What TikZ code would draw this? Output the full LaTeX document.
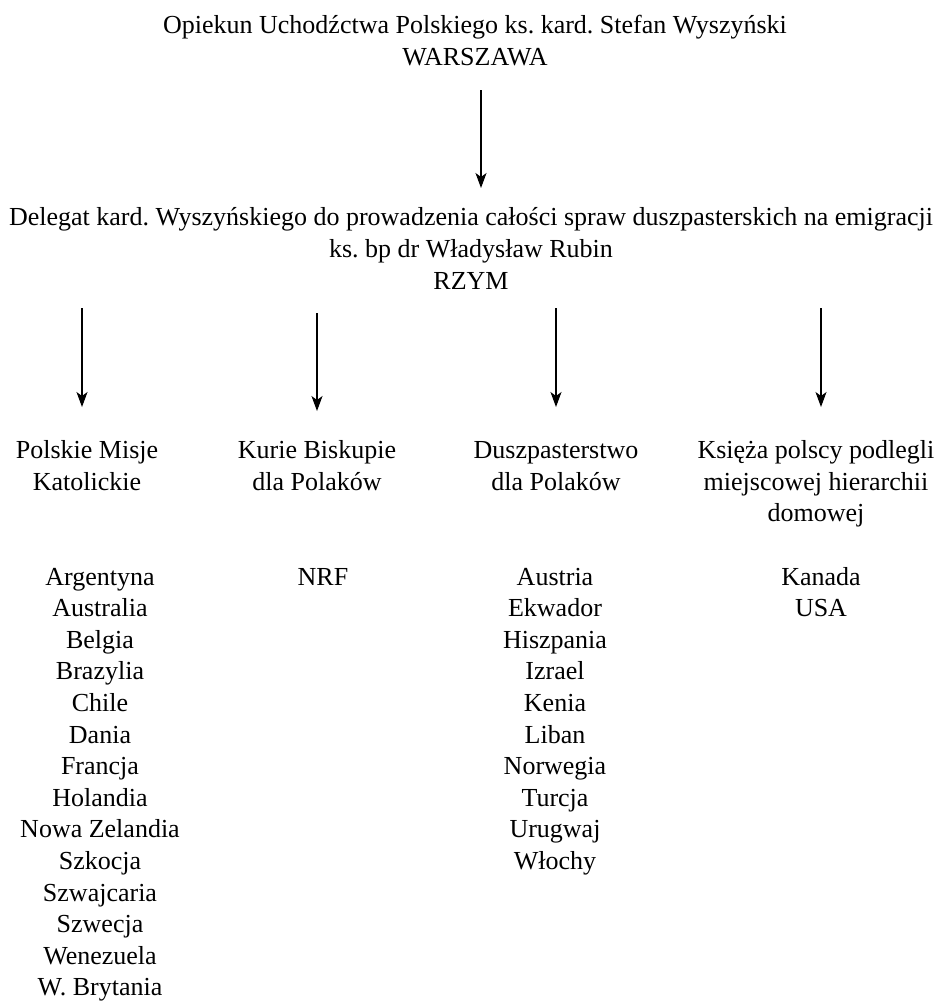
\documentclass[tikz,border=0pt]{standalone}
\usepackage{fontspec}
\setmainfont{Liberation Serif}
\usetikzlibrary{arrows.meta,calc}
\frenchspacing
\begin{document}
\begin{tikzpicture}[x=1pt,y=-1pt,
  txt/.style={font=\fontsize{26}{31.6}\selectfont\frenchspacing, inner sep=0pt, align=center, anchor=base},
  arr/.style={-{Stealth[length=15pt,width=11pt,inset=4pt]}, line width=1.1pt}]
\useasboundingbox (0,0) rectangle (946,1005);
% anchor=base of a multi-line node = baseline of its last line
\node[txt] (top) at (475,65) {Opiekun Uchodźctwa Polskiego ks. kard. Stefan Wyszyński\\WARSZAWA};
\node[txt] (del) at (471,289) {Delegat kard. Wyszyńskiego do prowadzenia całości spraw duszpasterskich na emigracji\\ks. bp dr Władysław Rubin\\RZYM};
\node[txt] (h1) at (87,490) {Polskie Misje\\Katolickie};
\node[txt] (h2) at (317,490) {Kurie Biskupie\\dla Polaków};
\node[txt] (h3) at (556,490) {Duszpasterstwo\\dla Polaków};
\node[txt] (h4) at (816,521.6) {Księża polscy podlegli\\miejscowej hierarchii\\domowej};
\node[txt] (l1) at (100,995.8) {Argentyna\\Australia\\Belgia\\Brazylia\\Chile\\Dania\\Francja\\Holandia\\Nowa Zelandia\\Szkocja\\Szwajcaria\\Szwecja\\Wenezuela\\W. Brytania};
\node[txt] (l2) at (323,585) {NRF};
\node[txt] (l3) at (555,869.4) {Austria\\Ekwador\\Hiszpania\\Izrael\\Kenia\\Liban\\Norwegia\\Turcja\\Urugwaj\\Włochy};
\node[txt] (l4) at (821,616.6) {Kanada\\USA};
\draw[arr] ($(top.base)+(6,25)$) -- ($(del.base)+(10,-101)$);
\draw[arr] ($(del.base -| h1.base)+(-5,19)$) -- ($(h1.base)+(-5,-83)$);
\draw[arr] ($(del.base -| h2.base)+(0,24)$) -- ($(h2.base)+(0,-79)$);
\draw[arr] ($(del.base -| h3.base)+(0,19)$) -- ($(h3.base)+(0,-83)$);
\draw[arr] ($(del.base -| h4.base)+(5,19)$) -- ($(h4.base)+(5,-114.6)$);
\end{tikzpicture}
\end{document}
